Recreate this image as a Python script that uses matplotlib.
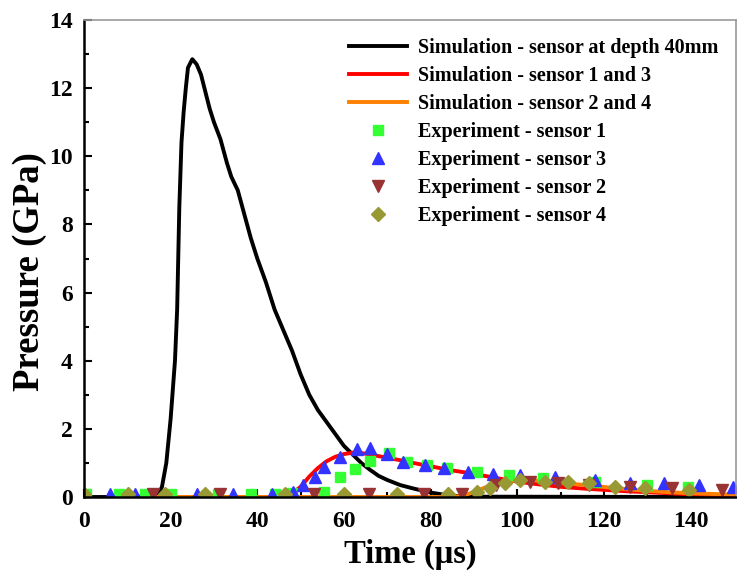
import matplotlib
matplotlib.use("Agg")
import matplotlib.pyplot as plt
from matplotlib.ticker import MultipleLocator

# Simulation curves
t_depth40 = [0, 10, 17, 18, 19, 20, 21, 21.5, 22, 22.5, 23, 23.5, 24, 25, 26, 27, 28, 29, 30,
             31.5, 33, 34, 35.5, 37, 38.5, 40, 42, 44, 46, 48, 50, 52, 54, 56, 58, 60, 62,
             64, 66, 68, 70, 73, 76, 80, 84, 88, 150]
p_depth40 = [0, 0, 0.02, 0.3, 1.0, 2.3, 4.0, 5.5, 8.5, 10.4, 11.3, 12.0, 12.6, 12.85, 12.7,
             12.4, 11.9, 11.4, 11.0, 10.5, 9.8, 9.4, 9.0, 8.3, 7.6, 7.0, 6.3, 5.5, 4.9, 4.3,
             3.6, 3.0, 2.55, 2.2, 1.85, 1.5, 1.25, 1.0, 0.8, 0.62, 0.5, 0.35, 0.25, 0.13,
             0.05, 0.01, 0]

t_sim13 = [17, 46, 47, 48.5, 50, 52, 54, 56, 58, 60, 62, 64, 66, 68, 70, 73, 76, 80, 85, 90,
           95, 100, 105, 110, 115, 120, 125, 130, 135, 140, 145, 150]
p_sim13 = [0, 0, 0.05, 0.15, 0.3, 0.6, 0.85, 1.05, 1.18, 1.26, 1.3, 1.29, 1.25, 1.2, 1.15,
           1.08, 1.0, 0.9, 0.78, 0.68, 0.56, 0.45, 0.37, 0.3, 0.25, 0.21, 0.17, 0.14, 0.11,
           0.08, 0.06, 0.05]

t_sim24 = [17, 85, 87, 89, 91, 93, 95, 97, 99, 101, 104, 107, 110, 114, 118, 122, 126, 130,
           135, 140, 145, 150]
p_sim24 = [0, 0, 0.03, 0.1, 0.2, 0.3, 0.38, 0.44, 0.48, 0.5, 0.49, 0.46, 0.42, 0.37, 0.32,
           0.27, 0.22, 0.18, 0.14, 0.11, 0.09, 0.07]

# Experimental data
t_exp1 = [0.5, 8, 14, 20, 31, 38.5, 44, 48, 55.3, 59.1, 62.6, 66, 70.3, 74.5, 79.1, 83.7,
          90.7, 98, 106, 118, 130, 139.5]
p_exp1 = [0.1, 0.1, 0.1, 0.1, 0.1, 0.1, 0.1, 0.12, 0.16, 0.6, 0.81, 1.07, 1.28, 1.04, 0.94,
          0.84, 0.74, 0.66, 0.55, 0.45, 0.35, 0.3]

t_exp3 = [6, 11.8, 26, 34.5, 43.3, 48.3, 50.5, 53.3, 55.3, 59.1, 63, 66, 69.9, 73.7, 78.7,
          83, 88.7, 94.5, 100.7, 108.8, 118, 126, 133.8, 141.9, 149.9]
p_exp3 = [0.1, 0.1, 0.1, 0.1, 0.1, 0.15, 0.35, 0.6, 0.89, 1.16, 1.4, 1.43, 1.25, 1.04, 0.94,
          0.84, 0.74, 0.67, 0.64, 0.6, 0.5, 0.4, 0.4, 0.35, 0.3]

t_exp2 = [16, 31.4, 53, 65.7, 78.4, 87.2, 95, 103, 109.5, 116.5, 126, 135.7, 147.2]
p_exp2 = [0.08, 0.08, 0.08, 0.08, 0.08, 0.1, 0.35, 0.45, 0.4, 0.35, 0.3, 0.25, 0.2]

t_exp4 = [0, 10.2, 18.7, 28, 46.4, 59.9, 72.2, 84, 90.7, 93.8, 97.2, 100.7, 106.5, 111.8,
          116.5, 122.6, 129.6, 139.6]
p_exp4 = [0.1, 0.1, 0.1, 0.1, 0.1, 0.1, 0.1, 0.1, 0.15, 0.25, 0.4, 0.5, 0.45, 0.45, 0.4,
          0.3, 0.25, 0.2]

plt.rcParams['font.family'] = ['Liberation Serif', 'DejaVu Serif']
plt.rcParams['font.weight'] = 'bold'

fig = plt.figure(figsize=(7.37, 5.8), dpi=100)
ax = fig.add_axes([84 / 737, 83 / 580, 652 / 737, 477 / 580])

lw = 2.8
ax.plot(t_depth40, p_depth40, color='black', lw=lw, label='Simulation - sensor at depth 40mm')
ax.plot(t_sim13, p_sim13, color='#ff0000', lw=lw, label='Simulation - sensor 1 and 3')
ax.plot(t_sim24, p_sim24, color='#ff8000', lw=lw, label='Simulation - sensor 2 and 4')

ms = 8
ax.plot(t_exp1, p_exp1, 's', color='#33ff33', ms=ms - 1, ls='none', label='Experiment - sensor 1')
ax.plot(t_exp3, p_exp3, '^', color='#3333ff', ms=ms, ls='none', label='Experiment - sensor 3')
ax.plot(t_exp2, p_exp2, 'v', color='#993333', ms=ms, ls='none', label='Experiment - sensor 2')
ax.plot(t_exp4, p_exp4, 'D', color='#999933', ms=ms - 1, ls='none', label='Experiment - sensor 4')

ax.set_xlim(0, 150.5)
ax.set_ylim(0, 14)
ax.xaxis.set_major_locator(MultipleLocator(20))
ax.xaxis.set_minor_locator(MultipleLocator(10))
ax.yaxis.set_major_locator(MultipleLocator(2))
ax.yaxis.set_minor_locator(MultipleLocator(1))
ax.tick_params(which='both', direction='in', top=False, right=False, width=1.5)
ax.tick_params(which='major', length=6, labelsize=17)
ax.tick_params(which='minor', length=3.5)
ax.tick_params(axis='x', which='major', pad=10)
ax.tick_params(axis='y', which='major', pad=8)

for s in ['left', 'bottom']:
    ax.spines[s].set_linewidth(1.8)
for s in ['top', 'right']:
    ax.spines[s].set_color('#999999')
    ax.spines[s].set_linewidth(1.2)

ax.set_xlabel('Time (μs)', fontsize=23.5, fontweight='bold', labelpad=5)
ax.set_ylabel('Pressure (GPa)', fontsize=26.5, fontweight='bold')
ax.yaxis.set_label_coords(-0.056, 0.472)

ax.legend(loc='upper right', frameon=False, handlelength=2.9,
          handletextpad=0.5, labelspacing=0.4, borderaxespad=0.5,
          prop={'weight': 'bold', 'size': 14.5})

fig.savefig('out.png', dpi=100)
